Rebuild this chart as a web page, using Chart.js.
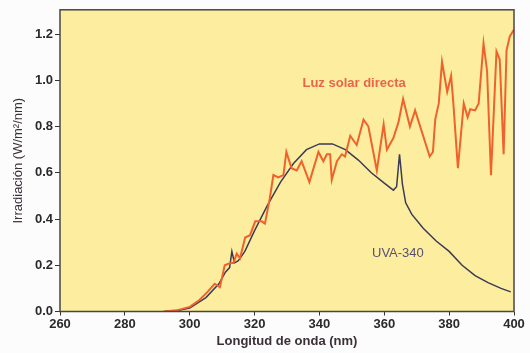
<!DOCTYPE html>
<html>
<head>
<meta charset="utf-8">
<script src="https://cdn.jsdelivr.net/npm/chart.js@4.4.1/dist/chart.umd.min.js"></script>
<style>
  html, body { margin: 0; padding: 0; background: #fcfcfc; }
  #wrap { width: 530px; height: 353px; }
</style>
</head>
<body>
<div id="wrap"><canvas id="myChart" width="530" height="353"></canvas></div>
<script>
// wavelengths (nm) and irradiance (W/m2/nm)
var sunNm = [292, 296, 300, 303, 305.5, 307.7, 309.3, 310.8, 312.5, 313.5, 314.5, 315.5, 317.1, 318.6, 320.2,
  322.2, 323.2, 324.7, 325.8, 327.3, 328.9, 329.8, 331.4, 333, 334.5, 336.9, 339.7, 341.2, 342.3, 343.3,
  343.8, 345.4, 346.9, 347.9, 349.5, 351.5, 353.6, 355.1, 357.7, 359.8, 360.8, 362.8, 364.4, 365.8, 367.9,
  369.5, 374, 375, 375.7, 376.8, 377.8, 379.4, 380.6, 381.3, 382.7, 384.5, 385.7, 386.5, 388, 389.1,
  390.6, 391.7, 392.9, 394.6, 395.6, 396.8, 397.7, 398.7, 400]
var sunVal = [0, 0.005, 0.02, 0.05, 0.085, 0.12, 0.105, 0.2, 0.21, 0.21, 0.25, 0.23, 0.32, 0.33, 0.39,
  0.39, 0.38, 0.49, 0.59, 0.58, 0.59, 0.69, 0.62, 0.61, 0.65, 0.56, 0.69, 0.65, 0.68, 0.68,
  0.57, 0.65, 0.68, 0.67, 0.76, 0.72, 0.83, 0.80, 0.61, 0.81, 0.70, 0.75, 0.82, 0.92, 0.80,
  0.87, 0.67, 0.69, 0.83, 0.90, 1.08, 0.95, 1.02, 0.90, 0.62, 0.90, 0.84, 0.875, 0.87, 0.90,
  1.16, 1.04, 0.59, 1.125, 1.09, 0.68, 1.13, 1.19, 1.22]

var uvaNm = [292, 296, 300, 305, 309, 311, 312.3, 313, 313.8, 315, 317, 320, 324, 328, 332, 336, 340, 344,
  348, 352, 356, 360, 362.8, 363.8, 364.7, 365.6, 366.6, 368.5, 372, 376, 380, 384, 388, 392, 396, 399]
var uvaVal = [0, 0.003, 0.015, 0.06, 0.12, 0.17, 0.19, 0.26, 0.21, 0.22, 0.26, 0.35, 0.46, 0.56, 0.64, 0.70, 0.725, 0.725,
  0.70, 0.655, 0.60, 0.555, 0.525, 0.54, 0.68, 0.55, 0.47, 0.42, 0.36, 0.305, 0.26, 0.20, 0.155, 0.125, 0.10, 0.085]

var xTicks = [260, 280, 300, 320, 340, 360, 380, 400]
var yTicks = [0, 0.2, 0.4, 0.6, 0.8, 1.0, 1.2]

// text labels placed in data units
var seriesLabels = [
  { text: 'Luz solar directa', x: 350.7, y: 0.985, color: '#e8654c', font: 'bold 13px "Liberation Sans", Arial, sans-serif' },
  { text: 'UVA-340', x: 364.2, y: 0.251, color: '#5a4f72', font: '13px "Liberation Sans", Arial, sans-serif' }
]

const toPoints = (xs, ys) => xs.map((x, i) => ({ x: x, y: ys[i] }))

const plotFrame = {
  id: 'plotFrame',
  beforeDatasetsDraw(chart) {
    const { ctx, chartArea: a } = chart
    ctx.save()
    ctx.fillStyle = '#fcee9e'
    ctx.fillRect(a.left, a.top, a.right - a.left, a.bottom - a.top)
    ctx.restore()
  },
  afterDatasetsDraw(chart) {
    const { ctx, chartArea: a, scales } = chart
    ctx.save()
    ctx.strokeStyle = '#4a4444'
    ctx.lineWidth = 1.5
    ctx.strokeRect(a.left, a.top, a.right - a.left, a.bottom - a.top)
    seriesLabels.forEach(l => {
      ctx.font = l.font
      ctx.fillStyle = l.color
      ctx.textAlign = 'center'
      ctx.textBaseline = 'middle'
      ctx.fillText(l.text, scales.x.getPixelForValue(l.x), scales.y.getPixelForValue(l.y))
    })
    ctx.restore()
  }
}

var font = '"Liberation Sans", Arial, sans-serif'

var chart = new Chart(document.getElementById('myChart'), {
  type: 'line',
  data: {
    datasets: [
      {
        label: 'Luz solar directa',
        data: toPoints(sunNm, sunVal),
        borderColor: '#f0612e',
        borderWidth: 2,
        pointRadius: 0,
        tension: 0
      },
      {
        label: 'UVA-340',
        data: toPoints(uvaNm, uvaVal),
        borderColor: '#3d3a56',
        borderWidth: 1.5,
        pointRadius: 0,
        tension: 0
      }
    ]
  },
  options: {
    responsive: false,
    animation: false,
    layout: { padding: { left: 0, right: 16, top: 6, bottom: 0 } },
    plugins: {
      legend: { display: false },
      tooltip: { enabled: false }
    },
    scales: {
      x: {
        type: 'linear',
        min: 260,
        max: 400,
        afterBuildTicks: s => { s.ticks = xTicks.map(v => ({ value: v })) },
        afterFit: s => { s.height = 41.5 },
        grid: { drawOnChartArea: false, drawTicks: true, tickLength: 4, color: '#333', tickWidth: 1 },
        border: { display: false },
        ticks: { color: '#2a2a2a', padding: 1, font: { family: font, size: 13, weight: 'bold' }, maxRotation: 0 },
        title: {
          display: true,
          text: 'Longitud de onda (nm)',
          color: '#3a3038',
          font: { family: font, size: 13, weight: 'bold' },
          padding: { top: 0, bottom: 4 }
        }
      },
      y: {
        min: 0,
        max: 1.305,
        afterBuildTicks: s => { s.ticks = yTicks.map(v => ({ value: v })) },
        afterFit: s => { s.width = 60 },
        grid: { drawOnChartArea: false, drawTicks: true, tickLength: 5, color: '#333', tickWidth: 1 },
        border: { display: false },
        ticks: {
          color: '#2a2a2a',
          padding: 2,
          font: { family: font, size: 13, weight: 'bold' },
          callback: v => v.toFixed(1)
        },
        title: {
          display: true,
          text: 'Irradiación (W/m²/nm)',
          color: '#3a3038',
          font: { family: font, size: 13 },
          padding: { top: 11, bottom: 0 }
        }
      }
    }
  },
  plugins: [plotFrame]
})
</script>
</body>
</html>
